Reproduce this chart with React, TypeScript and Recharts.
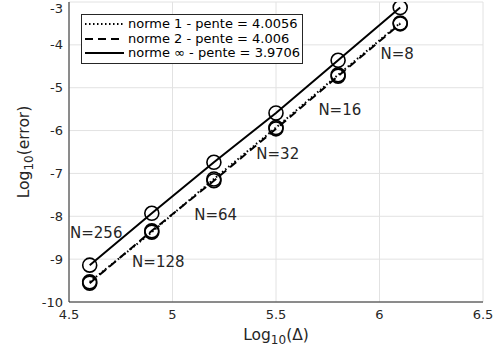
import React from 'react';
import { LineChart, Line, XAxis, YAxis, CartesianGrid, ReferenceDot, Label } from 'recharts';

// log10 of the mesh spacing for each refinement level
const logDelta = [4.6, 4.9, 5.2, 5.5, 5.8, 6.1];
// log10 of the error in each norm
const errNorm1 = [-9.53, -8.37, -7.13, -5.93, -4.7, -3.49];
const errNorm2 = [-9.56, -8.34, -7.17, -5.96, -4.73, -3.51];
const errNormInf = [-9.14, -7.93, -6.74, -5.59, -4.36, -3.13];

// refinement annotations
const meshLabels = ['N=8', 'N=16', 'N=32', 'N=64', 'N=128', 'N=256'];
const meshLabelX = [6.0, 5.7, 5.4, 5.1, 4.8, 4.5];
const meshLabelY = [-4.2, -5.51, -6.55, -7.96, -9.06, -8.38];

const legendNames = ['norme 1 - pente = 4.0056', 'norme 2 - pente = 4.006', 'norme \u221e - pente = 3.9706'];

const xTicks = [4.5, 5, 5.5, 6, 6.5];
const yTicks = [-10, -9, -8, -7, -6, -5, -4, -3];

const rows = logDelta.map((x, i) => ({ x, n1: errNorm1[i], n2: errNorm2[i], ninf: errNormInf[i] }));

const FONT = 'DejaVu Sans, sans-serif';
const INK = '#262626';

const Ring = (props: any) => {
  const { cx, cy } = props;
  if (cx == null || cy == null) return null;
  return <circle cx={cx} cy={cy} r={7} fill="none" stroke="#000" strokeWidth={1.6} />;
};

const dashes = ['1.5 2.5', '8 5', undefined];

const LegendBox = () => (
  <div
    style={{
      position: 'absolute',
      left: 81,
      top: 14,
      border: '1px solid #262626',
      background: '#fff',
      padding: '2px 2px 2px 3px',
      fontFamily: FONT,
      fontSize: 13,
      color: '#000',
      lineHeight: '14.5px',
    }}
  >
    {legendNames.map((name, i) => (
      <div key={name} style={{ display: 'flex', alignItems: 'center', whiteSpace: 'nowrap' }}>
        <svg width={39} height={14} style={{ marginRight: 4 }}>
          <line x1={0} y1={7} x2={39} y2={7} stroke="#000" strokeWidth={2} strokeDasharray={dashes[i]} />
        </svg>
        <span>{name}</span>
      </div>
    ))}
  </div>
);

const XLabel = (props: any) => {
  const vb = props.viewBox;
  const cx = vb.x + vb.width / 2;
  return (
    <text x={cx} y={340} textAnchor="middle" fontFamily={FONT} fontSize={15.5} fill={INK}>
      <tspan>Log</tspan>
      <tspan fontSize={12} dy={4}>10</tspan>
      <tspan dy={-4}>(Δ)</tspan>
    </text>
  );
};

const YLabel = (props: any) => {
  const vb = props.viewBox;
  const cy = vb.y + vb.height / 2;
  const x = 29;
  return (
    <text
      x={x}
      y={cy}
      transform={`rotate(-90 ${x} ${cy})`}
      textAnchor="middle"
      fontFamily={FONT}
      fontSize={15.5}
      fill={INK}
    >
      <tspan>Log</tspan>
      <tspan fontSize={12} dy={4}>10</tspan>
      <tspan dy={-4}>(error)</tspan>
    </text>
  );
};

export default function App() {
  return (
    <div style={{ position: 'absolute', left: 0, top: 0, width: 497, height: 354, background: '#fff' }}>
      <LineChart width={497} height={354} data={rows} margin={{ top: 2, right: 14, bottom: 22, left: 0 }}>
        <CartesianGrid stroke="#e2e2e2" strokeWidth={1} />
        <XAxis
          dataKey="x"
          type="number"
          domain={[4.5, 6.5]}
          ticks={xTicks}
          tickFormatter={(v: number) => String(v)}
          stroke={INK}
          height={30}
          tickLine={false}
          tickSize={0}
          tick={{ fontFamily: FONT, fontSize: 13, fill: INK }}
          tickMargin={8}
          allowDataOverflow
        >
          <Label content={<XLabel />} />
        </XAxis>
        <YAxis
          type="number"
          domain={[-10, -3]}
          ticks={yTicks}
          width={69}
          stroke={INK}
          tickLine={false}
          tickSize={0}
          tick={{ fontFamily: FONT, fontSize: 13, fill: INK }}
          tickMargin={6}
          allowDataOverflow
        >
          <Label content={<YLabel />} />
        </YAxis>
        <XAxis xAxisId="top" orientation="top" type="number" domain={[4.5, 6.5]} ticks={xTicks} tick={false} tickLine={false} stroke={INK} height={0} />
        <YAxis yAxisId="right" orientation="right" type="number" domain={[-10, -3]} ticks={yTicks} tick={false} tickLine={false} stroke={INK} width={0} />
        <Line dataKey="n1" stroke="#000" strokeWidth={2} strokeDasharray="1.5 2.5" dot={<Ring />} isAnimationActive={false} />
        <Line dataKey="n2" stroke="#000" strokeWidth={2} strokeDasharray="8 5" dot={<Ring />} isAnimationActive={false} />
        <Line dataKey="ninf" stroke="#000" strokeWidth={2} dot={<Ring />} isAnimationActive={false} />
        {meshLabels.map((t, i) => (
          <ReferenceDot
            key={t}
            x={meshLabelX[i]}
            y={meshLabelY[i]}
            r={0}
            ifOverflow="visible"
            label={{ value: t, position: 'right', offset: 1, fontFamily: FONT, fontSize: 15, fill: INK }}
          />
        ))}
      </LineChart>
      <LegendBox />
    </div>
  );
}
